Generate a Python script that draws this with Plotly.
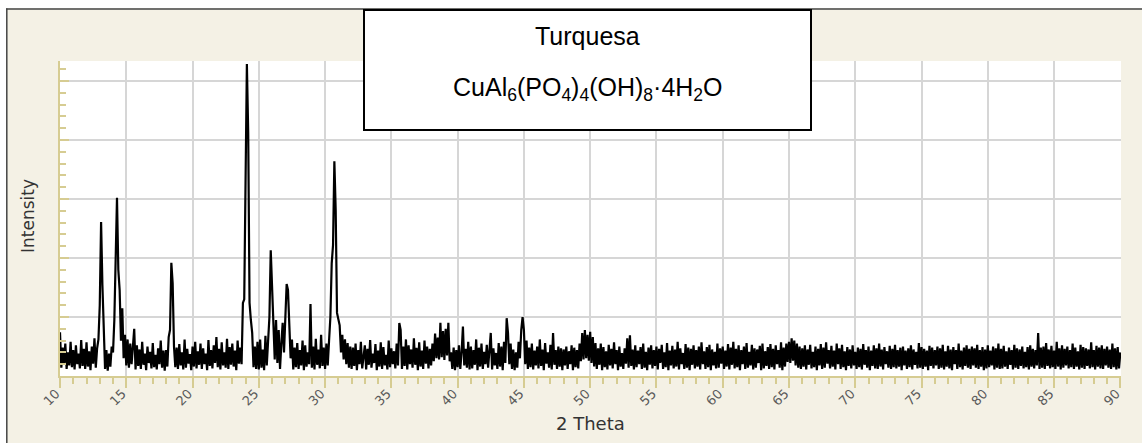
import plotly.graph_objects as go

# ---- data ----
two_theta_start = 10.0
two_theta_step = 0.1
intensity = [
    74, 14, 48, 22, 55, 12, 40, 18, 58, 15,   # 10
    44, 11, 52, 20, 38, 13, 61, 17, 46, 12,   # 11
    57, 16, 42, 10, 50, 21, 64, 14, 47, 62,   # 12
    120, 261, 154, 58, 12, 44, 9, 38, 16, 50, # 13
    40, 95, 217, 302, 180, 146, 60, 115, 30, 70,  # 14
    18, 62, 14, 55, 20, 48, 80, 11, 52, 17,   # 15
    45, 12, 58, 19, 38, 10, 50, 22, 41, 13,   # 16
    56, 15, 36, 11, 47, 20, 60, 14, 43, 9,    # 17
    44, 16, 66, 78, 192, 157, 50, 15, 48, 12, # 18
    54, 18, 40, 11, 62, 14, 46, 21, 37, 10,   # 19
    50, 16, 58, 13, 42, 19, 55, 12, 47, 20,   # 20
    38, 10, 61, 17, 44, 13, 52, 22, 66, 15,   # 21
    46, 11, 57, 18, 40, 14, 63, 12, 49, 19,   # 22
    55, 16, 43, 10, 60, 21, 48, 20, 124, 130, # 23
    298, 529, 412, 124, 95, 73, 15, 50, 12, 58,   # 24
    11, 62, 14, 45, 10, 68, 18, 52, 100, 213, # 25
    151, 92, 28, 95, 22, 78, 12, 55, 90, 40,  # 26
    107, 156, 146, 84, 30, 62, 11, 48, 15, 56,    # 27
    12, 44, 18, 60, 10, 52, 16, 40, 20, 122,  # 28
    14, 50, 11, 63, 19, 45, 13, 70, 17, 48,   # 29
    12, 55, 18, 60, 100, 191, 222, 364, 281, 107, # 30
    95, 86, 40, 70, 28, 62, 20, 56, 14, 50,   # 31
    12, 48, 17, 55, 10, 44, 20, 58, 13, 40,   # 32
    52, 11, 46, 19, 61, 14, 38, 22, 54, 10,   # 33
    43, 16, 57, 12, 49, 18, 36, 11, 60, 15,   # 34
    47, 20, 42, 13, 55, 18, 90, 78, 12, 50,   # 35
    17, 62, 11, 52, 20, 45, 14, 64, 19, 48,   # 36
    10, 57, 16, 43, 12, 60, 21, 50, 13, 46,   # 37
    18, 55, 25, 72, 30, 65, 28, 90, 32, 76,   # 38
    27, 80, 35, 90, 25, 40, 12, 48, 10, 44,   # 39
    15, 52, 12, 40, 84, 18, 46, 14, 58, 11,   # 40
    50, 13, 44, 19, 62, 10, 48, 16, 55, 12,   # 41
    41, 20, 53, 14, 45, 73, 11, 47, 18, 39,   # 42
    12, 56, 16, 50, 10, 58, 22, 98, 73, 20,   # 43
    55, 12, 45, 10, 40, 14, 58, 30, 78, 100,  # 44
    78, 20, 60, 12, 48, 15, 55, 11, 43, 18,   # 45
    50, 13, 62, 17, 45, 10, 56, 21, 40, 14,   # 46
    53, 11, 73, 19, 44, 12, 50, 16, 47, 10,   # 47
    45, 18, 50, 12, 42, 20, 52, 10, 48, 15,   # 48
    44, 13, 55, 25, 73, 28, 78, 30, 70, 26,   # 49
    75, 22, 66, 16, 56, 12, 47, 19, 55, 10,   # 50
    49, 15, 42, 11, 53, 18, 46, 13, 57, 20,   # 51
    44, 10, 50, 16, 39, 12, 47, 21, 64, 14,   # 52
    69, 17, 45, 11, 52, 15, 43, 20, 49, 12,   # 53
    55, 14, 41, 10, 48, 19, 52, 13, 44, 17,   # 54
    50, 11, 46, 22, 53, 12, 40, 15, 56, 10,   # 55
    43, 18, 51, 13, 45, 16, 58, 11, 47, 20,   # 56
    39, 12, 54, 14, 48, 10, 46, 19, 52, 13,   # 57
    44, 16, 50, 11, 57, 20, 42, 12, 49, 15,   # 58
    53, 10, 45, 18, 41, 13, 55, 14, 47, 21,   # 59
    50, 12, 43, 16, 54, 11, 48, 19, 58, 13,   # 60
    46, 15, 52, 10, 44, 20, 50, 12, 56, 14,   # 61
    41, 18, 53, 11, 47, 14, 45, 22, 51, 10,   # 62
    55, 13, 42, 17, 49, 12, 54, 15, 46, 11,   # 63
    52, 20, 44, 14, 57, 10, 48, 16, 55, 24,   # 64
    58, 22, 64, 26, 60, 18, 55, 14, 50, 12,   # 65
    47, 16, 52, 11, 45, 19, 53, 13, 41, 15,   # 66
    50, 10, 46, 18, 54, 12, 48, 14, 57, 21,   # 67
    44, 13, 51, 16, 43, 11, 55, 20, 47, 12,   # 68
    53, 15, 42, 10, 49, 17, 45, 13, 52, 18,   # 69
    41, 12, 48, 15, 46, 11, 54, 19, 44, 14,   # 70
    50, 10, 43, 17, 52, 13, 47, 12, 55, 16,   # 71
    45, 11, 49, 20, 42, 14, 51, 12, 46, 15,   # 72
    53, 13, 44, 16, 48, 10, 50, 18, 43, 12,   # 73
    47, 15, 52, 11, 45, 19, 41, 13, 56, 14,   # 74
    49, 12, 46, 16, 43, 10, 51, 17, 48, 13,   # 75
    44, 18, 50, 12, 47, 14, 53, 11, 42, 16,   # 76
    51, 13, 45, 10, 49, 20, 44, 12, 55, 15,   # 77
    43, 11, 48, 17, 52, 14, 46, 12, 50, 18,   # 78
    47, 14, 53, 12, 44, 16, 49, 10, 45, 13,   # 79
    52, 15, 43, 18, 50, 11, 47, 14, 55, 12,   # 80
    46, 13, 51, 16, 42, 12, 48, 19, 44, 11,   # 81
    53, 14, 47, 12, 45, 17, 50, 13, 41, 15,   # 82
    49, 11, 52, 16, 46, 13, 44, 18, 73, 12,   # 83
    48, 14, 50, 12, 56, 17, 45, 13, 51, 15,   # 84
    43, 12, 58, 16, 47, 11, 52, 14, 46, 18,   # 85
    50, 13, 44, 15, 55, 12, 48, 16, 42, 11,   # 86
    53, 14, 49, 12, 47, 17, 45, 13, 57, 15,   # 87
    44, 11, 51, 16, 48, 13, 52, 12, 46, 18,   # 88
    50, 14, 45, 12, 55, 15, 47, 11, 49, 13,   # 89
    40,                                        # 90
]
two_theta = [round(two_theta_start + i * two_theta_step, 2) for i in range(len(intensity))]

title_line1 = "Turquesa"
title_line2 = "CuAl<sub>6</sub>(PO<sub>4</sub>)<sub>4</sub>(OH)<sub>8</sub>·4H<sub>2</sub>O"
x_title = "2 Theta"
y_title = "Intensity"

# ---- layout geometry ----
W, H = 1142, 443
L, R, T, B = 60, 21, 61, 67
PW, PH = W - L - R, H - T - B


def fx(px):
    return (px - L) / PW


def fy(py):
    return (H - B - py) / PH


BEIGE = "#F4F1E5"
GRID = "#D6D6D6"
AXC = "#D6CC92"

fig = go.Figure()
fig.add_trace(go.Scatter(
    x=two_theta, y=intensity, mode="lines",
    line=dict(color="black", width=2.2), showlegend=False, hoverinfo="skip",
))

fig.update_layout(
    width=W, height=H,
    margin=dict(l=L, r=R, t=T, b=B, pad=0),
    paper_bgcolor=BEIGE, plot_bgcolor="white",
    showlegend=False,
    xaxis=dict(
        range=[10, 90.05], tick0=10, dtick=5, tickangle=-45,
        showgrid=True, gridcolor=GRID, gridwidth=2,
        showline=True, linecolor=AXC, linewidth=2,
        ticks="outside", ticklen=10, tickcolor=AXC, tickwidth=1.5,
        minor=dict(dtick=1, ticks="outside", ticklen=6, tickcolor=AXC, tickwidth=1.5, showgrid=False),
        tickfont=dict(family="DejaVu Sans", size=13, color="#5a5a5a"),
        ticklabelstandoff=-7, ticklabelshift=-4,
        zeroline=False,
    ),
    yaxis=dict(
        range=[0, 534], tick0=0, dtick=100,
        showgrid=True, gridcolor=GRID, gridwidth=2,
        showline=True, linecolor=AXC, linewidth=1.5,
        ticks="inside", ticklen=9, tickcolor=AXC, tickwidth=1.5,
        minor=dict(dtick=20, ticks="inside", ticklen=6, tickcolor=AXC, tickwidth=1.5, showgrid=False),
        showticklabels=False, zeroline=False,
    ),
    shapes=[
        # white outside strips and dark frame
        dict(type="rect", xref="paper", yref="paper", x0=fx(0), x1=fx(6), y0=fy(H), y1=fy(0),
             fillcolor="white", line=dict(width=0), layer="above"),
        dict(type="rect", xref="paper", yref="paper", x0=fx(0), x1=fx(W), y0=fy(8), y1=fy(0),
             fillcolor="white", line=dict(width=0), layer="above"),
        dict(type="line", xref="paper", yref="paper", x0=fx(6.8), x1=fx(6.8), y0=fy(H), y1=fy(8.5),
             line=dict(color="#444444", width=1.5), layer="above"),
        dict(type="line", xref="paper", yref="paper", x0=fx(6), x1=fx(W), y0=fy(9), y1=fy(9),
             line=dict(color="#444444", width=1.5), layer="above"),
        # title box
        dict(type="rect", xref="paper", yref="paper", x0=fx(364), x1=fx(811), y0=fy(130), y1=fy(10),
             fillcolor="white", line=dict(color="black", width=2), layer="above"),
    ],
    annotations=[
        dict(text=title_line1, xref="paper", yref="paper", x=fx(587.5), y=fy(36),
             xanchor="center", yanchor="middle", showarrow=False,
             font=dict(family="Liberation Sans, Arial", size=25, color="black")),
        dict(text=title_line2, xref="paper", yref="paper", x=fx(587.5), y=fy(89),
             xanchor="center", yanchor="middle", showarrow=False,
             font=dict(family="Liberation Sans, Arial", size=25, color="black")),
        dict(text=x_title, xref="paper", yref="paper", x=0.5, y=fy(424),
             xanchor="center", yanchor="middle", showarrow=False,
             font=dict(family="DejaVu Sans", size=18, color="#333333")),
        dict(text=y_title, xref="paper", yref="paper", x=fx(28), y=fy(216),
             xanchor="center", yanchor="middle", showarrow=False, textangle=-90,
             font=dict(family="DejaVu Sans", size=17, color="#333333")),
    ],
)

fig.write_html("out.html", config={"displayModeBar": False})
